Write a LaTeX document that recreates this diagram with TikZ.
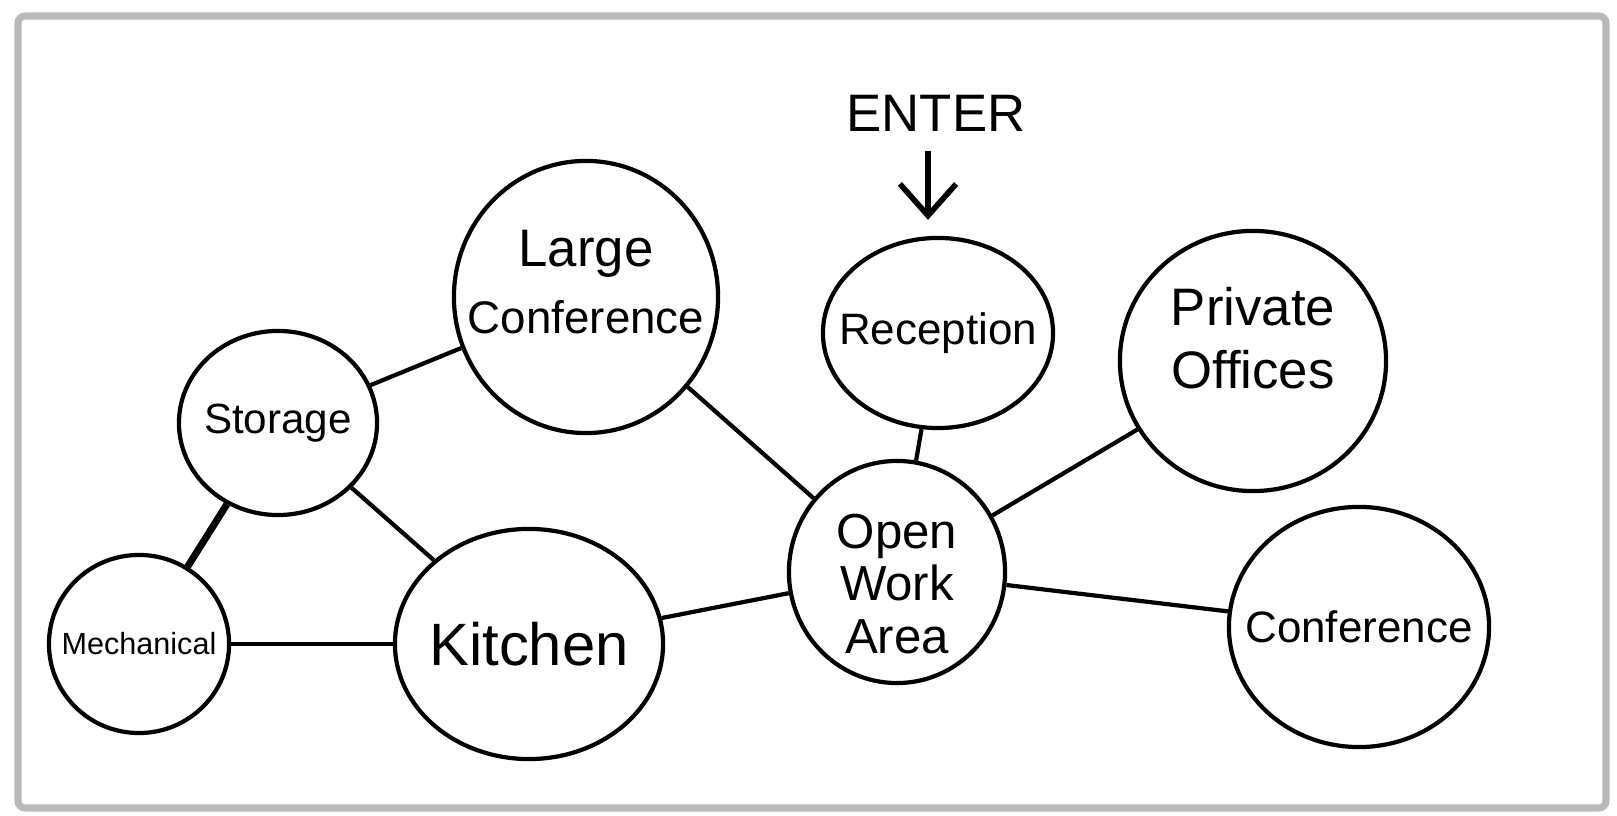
\documentclass[tikz,border=0pt]{standalone}
\usepackage{fontspec}
\setmainfont{Liberation Sans}
\usepackage{tikz}
\usetikzlibrary{arrows.meta,shapes.geometric}

\begin{document}
\begin{tikzpicture}[x=0.01cm,y=-0.01cm,line width=1.2pt,
        room/.style={draw,ellipse,inner sep=0pt},
        roomtext/.style={align=center,inner sep=0pt},
        link/.style={draw}]

  \useasboundingbox (0,0) rectangle (1617,816);
  \draw[gray!55,line width=2pt,rounded corners=2pt] (18,16) rectangle (1606,808);

  \node[room,minimum width=2.64cm,minimum height=2.72cm,
        label={[roomtext,font=\fontsize{13}{19}\selectfont,yshift=1.5mm]center:{{\fontsize{15}{19}\selectfont Large}\\Conference}}] (large) at (586,297) {};
  \node[room,minimum width=2.30cm,minimum height=1.90cm,
        label={[roomtext,font=\fontsize{12.5}{15}\selectfont]center:Reception}] (recep) at (938,333) {};
  \node[room,minimum width=2.66cm,minimum height=2.60cm,
        label={[roomtext,font=\fontsize{15}{18}\selectfont,yshift=2.3mm]center:{Private\\Offices}}] (priv) at (1253,361) {};
  \node[room,minimum width=1.98cm,minimum height=1.84cm,
        label={[roomtext,font=\fontsize{12}{15}\selectfont]center:Storage}] (stor) at (278,423) {};
  \node[room,minimum width=1.80cm,minimum height=1.78cm,
        label={[roomtext,font=\fontsize{8.7}{11}\selectfont]center:Mechanical}] (mech) at (139,644) {};
  \node[room,minimum width=2.68cm,minimum height=2.30cm,
        label={[roomtext,font=\fontsize{17}{20}\selectfont]center:Kitchen}] (kit) at (529,644) {};
  \node[room,minimum width=2.16cm,minimum height=2.22cm,
        label={[roomtext,font=\fontsize{14}{15}\selectfont,yshift=-1.2mm]center:{Open\\Work\\Area}}] (open) at (897,572) {};
  \node[room,minimum width=2.60cm,minimum height=2.40cm,
        label={[roomtext,font=\fontsize{12.5}{15}\selectfont]center:Conference}] (conf) at (1359,627) {};

  \node[font=\fontsize{15}{18}\selectfont] (enter) at (936,113) {ENTER};
  \draw[-{Straight Barb[length=9pt,width=16pt]},line width=1.6pt] (enter.south) ++(-8,6) coordinate (entertop) -- ([yshift=1.6mm]recep.north -| entertop);

  \path (stor) edge[link] (large)
        (stor) edge[link,line width=2pt] (mech)
        (stor) edge[link] (kit)
        (mech) edge[link] (kit)
        (kit) edge[link] (open)
        (large) edge[link] (open)
        (recep) edge[link] (open)
        (priv) edge[link] (open)
        (open) edge[link] (conf);

\end{tikzpicture}
\end{document}
